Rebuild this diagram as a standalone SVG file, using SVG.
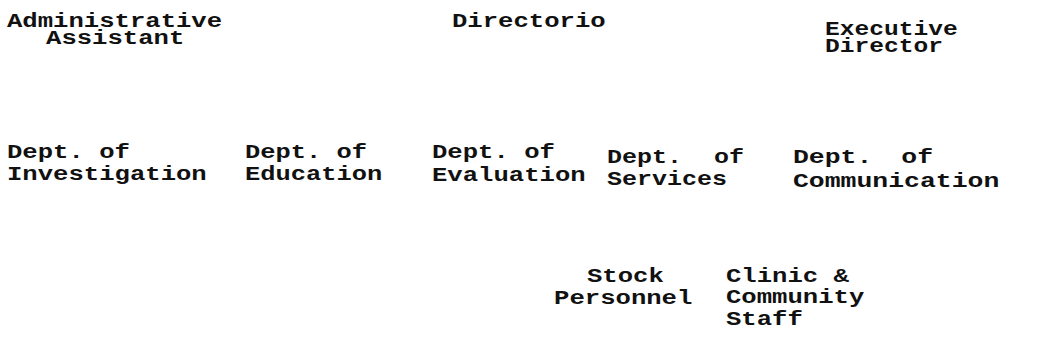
<svg xmlns="http://www.w3.org/2000/svg" width="1038" height="357" viewBox="0 0 1038 357">
  <style>
    /* typewriter labels: monospace glyphs widened by each group's scale */
    .lbl { font-family: "Liberation Mono", "Courier New", monospace; font-size: 21px; font-weight: bold; fill: #111; }
  </style>
  <rect width="1038" height="357" fill="#fff"/>
  <!-- top row -->
  <g id="admin-assistant" transform="translate(7,27) scale(1.22,1)">
    <text class="lbl" x="0" y="0">Administrative</text>
    <text class="lbl" x="32" y="17">Assistant</text>
  </g>
  <g id="directorio" transform="translate(452,27) scale(1.22,1)">
    <text class="lbl" x="0" y="0">Directorio</text>
  </g>
  <g id="executive-director" transform="translate(825,35) scale(1.17,1)">
    <text class="lbl" x="0" y="0">Executive</text>
    <text class="lbl" x="0" y="17">Director</text>
  </g>
  <!-- departments -->
  <g id="dept-investigation" transform="translate(7,158) scale(1.22,1)">
    <text class="lbl" x="0" y="0">Dept. of</text>
    <text class="lbl" x="0" y="22">Investigation</text>
  </g>
  <g id="dept-education" transform="translate(245,158) scale(1.21,1)">
    <text class="lbl" x="0" y="0">Dept. of</text>
    <text class="lbl" x="0" y="22">Education</text>
  </g>
  <g id="dept-evaluation" transform="translate(432,158) scale(1.22,1)">
    <text class="lbl" x="0" y="0">Dept. of</text>
    <text class="lbl" x="0" y="23">Evaluation</text>
  </g>
  <g id="dept-services" transform="translate(607,163) scale(1.19,1)">
    <text class="lbl" x="0" y="0">Dept. <tspan x="90">of</tspan></text>
    <text class="lbl" x="0" y="22">Services</text>
  </g>
  <g id="dept-communication" transform="translate(793,163) scale(1.26,1)">
    <text class="lbl" x="0" y="0">Dept. <tspan x="86">of</tspan></text>
    <text class="lbl" x="0" y="24">Communication</text>
  </g>
  <!-- staff -->
  <g id="stock-personnel" transform="translate(587,282) scale(1.22,1)">
    <text class="lbl" x="0" y="0">Stock</text>
    <text class="lbl" x="-27" y="22">Personnel</text>
  </g>
  <g id="clinic-community" transform="translate(726,282) scale(1.22,1)">
    <text class="lbl" x="0" y="0">Clinic &amp;</text>
    <text class="lbl" x="0" y="21">Community</text>
    <text class="lbl" x="0" y="43">Staff</text>
  </g>
  <g id="connectors"/>
</svg>
